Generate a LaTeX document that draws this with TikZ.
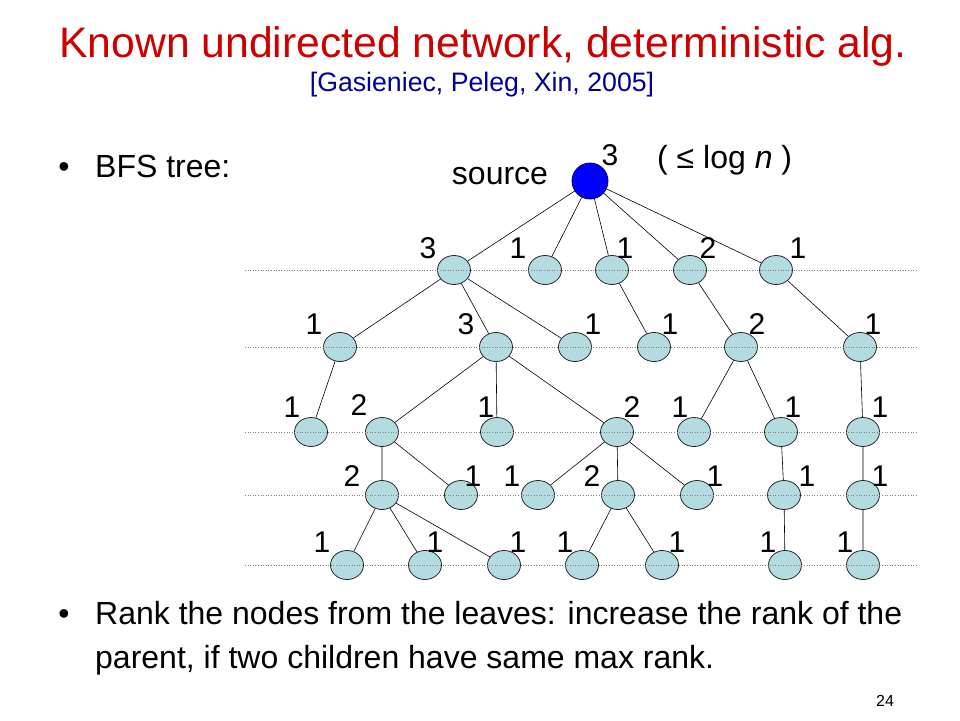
\documentclass[tikz,border=0pt]{standalone}
\usepackage{fontspec}
\setmainfont{Liberation Sans}
\usetikzlibrary{shapes.geometric}
\definecolor{titlered}{RGB}{204,0,0}
\definecolor{citeblue}{RGB}{0,0,153}
\definecolor{nodeblue}{RGB}{180,220,224}
\definecolor{srcblue}{RGB}{0,0,255}
\begin{document}
\begin{tikzpicture}[x=1pt,y=-1pt,
    vert/.style={draw=black!85,fill=nodeblue,ellipse,minimum width=33pt,minimum height=29pt,inner sep=0pt,line width=0.8pt},
    src/.style={draw=black!60!blue,fill=srcblue,circle,minimum size=36pt,inner sep=0pt,line width=0.8pt},
    num/.style={font=\fontsize{30}{34}\selectfont,inner sep=0pt},
    txt/.style={font=\fontsize{32}{38}\selectfont,inner sep=0pt,anchor=base west},
    level/.style={gray,dotted,line width=0.6pt},
    link/.style={line width=0.6pt}]
  \useasboundingbox (0,0) rectangle (960,720);

  \node [font=\fontsize{42.7}{48}\selectfont,text=titlered,anchor=base] (title) at (483,57) {Known undirected network, deterministic alg.};
  \node [font=\fontsize{26.7}{30}\selectfont,text=citeblue,anchor=base] (cite) at (482,91) {[Gasieniec, Peleg, Xin, 2005]};
  \node [txt,anchor=base] (dot1) at (64,177) {•};
  \node [txt] (bfs) at (95,177) {BFS tree:};

  % the tree, level by level
  \node [src] (s) at (590,181) {};
  \node [txt,anchor=base] (srcname) at (500,184) {source};
  \node [txt] (bound) at (657,168) {( ≤ log \textit{n} )};

  \node [vert] (a1) at (454,270) {};
  \node [vert] (a2) at (545,270) {};
  \node [vert] (a3) at (612,270) {};
  \node [vert] (a4) at (690,270) {};
  \node [vert] (a5) at (776,270) {};

  \node [vert] (b1) at (340,347) {};
  \node [vert] (b2) at (496,347) {};
  \node [vert] (b3) at (575,347) {};
  \node [vert] (b4) at (654,347) {};
  \node [vert] (b5) at (741,347) {};
  \node [vert] (b6) at (860,347) {};

  \node [vert] (c1) at (311,432) {};
  \node [vert] (c2) at (382,432) {};
  \node [vert] (c3) at (497,432) {};
  \node [vert] (c4) at (617,432) {};
  \node [vert] (c5) at (694,432) {};
  \node [vert] (c6) at (781,432) {};
  \node [vert] (c7) at (863,432) {};

  \node [vert] (d1) at (382,495) {};
  \node [vert] (d2) at (461,495) {};
  \node [vert] (d3) at (538,495) {};
  \node [vert] (d4) at (618,495) {};
  \node [vert] (d5) at (697,495) {};
  \node [vert] (d6) at (784,495) {};
  \node [vert] (d7) at (863,495) {};

  \node [vert] (e1) at (347,565) {};
  \node [vert] (e2) at (425,565) {};
  \node [vert] (e3) at (504,565) {};
  \node [vert] (e4) at (582,565) {};
  \node [vert] (e5) at (662,565) {};
  \node [vert] (e6) at (785,565) {};
  \node [vert] (e7) at (863,565) {};

  \draw [link] (s) -- (a1) (s) -- (a2) (s) -- (a3) (s) -- (a4) (s) -- (a5);
  \draw [link] (a1) -- (b1) (a1) -- (b2) (a1) -- (b3) (a3) -- (b4) (a4) -- (b5) (a5) -- (b6);
  \draw [link] (b1) -- (c1) (b2) -- (c2) (b2) -- (c3) (b2) -- (c4) (b5) -- (c5) (b5) -- (c6) (b6) -- (c7);
  \draw [link] (c2) -- (d1) (c2) -- (d2) (c4) -- (d3) (c4) -- (d4) (c4) -- (d5) (c6) -- (d6) (c7) -- (d7);
  \draw [link] (d1) -- (e1) (d1) -- (e2) (d1) -- (e3) (d4) -- (e4) (d4) -- (e5) (d6) -- (e6) (d7) -- (e7);

  \foreach \y in {270,347,432,495,565}
    \draw [level] (245,\y) -- (918,\y);

  % ranks
  \node [num] (r-s) at (610,155) {3};
  \node [num] (r-a1) at (428,248) {3};
  \node [num] (r-a2) at (518,248) {1};
  \node [num] (r-a3) at (625,248) {1};
  \node [num] (r-a4) at (708,248) {2};
  \node [num] (r-a5) at (798,248) {1};
  \node [num] (r-b1) at (314,324) {1};
  \node [num] (r-b2) at (466,324) {3};
  \node [num] (r-b3) at (593,324) {1};
  \node [num] (r-b4) at (670,324) {1};
  \node [num] (r-b5) at (757,324) {2};
  \node [num] (r-b6) at (873,324) {1};
  \node [num] (r-c1) at (292,407) {1};
  \node [num] (r-c2) at (359,405) {2};
  \node [num] (r-c3) at (486,407) {1};
  \node [num] (r-c4) at (632,407) {2};
  \node [num] (r-c5) at (680,407) {1};
  \node [num] (r-c6) at (793,407) {1};
  \node [num] (r-c7) at (880,407) {1};
  \node [num] (r-d1) at (352,476) {2};
  \node [num] (r-d2) at (473,476) {1};
  \node [num] (r-d3) at (512,476) {1};
  \node [num] (r-d4) at (592,476) {2};
  \node [num] (r-d5) at (715,476) {1};
  \node [num] (r-d6) at (807,476) {1};
  \node [num] (r-d7) at (880,476) {1};
  \node [num] (r-e1) at (322,542) {1};
  \node [num] (r-e2) at (435,542) {1};
  \node [num] (r-e3) at (518,542) {1};
  \node [num] (r-e4) at (565,542) {1};
  \node [num] (r-e5) at (677,542) {1};
  \node [num] (r-e6) at (768,542) {1};
  \node [num] (r-e7) at (845,542) {1};

  \node [txt,anchor=base] (dot2) at (64,624) {•};
  \node [txt] (rank1) at (95,624) {Rank the nodes from the leaves: increase the rank of the};
  \node [txt] (rank2) at (95,668) {parent, if two children have same max rank.};
  \node [font=\fontsize{16}{18}\selectfont,anchor=base] (page) at (885,706) {24};
\end{tikzpicture}
\end{document}
